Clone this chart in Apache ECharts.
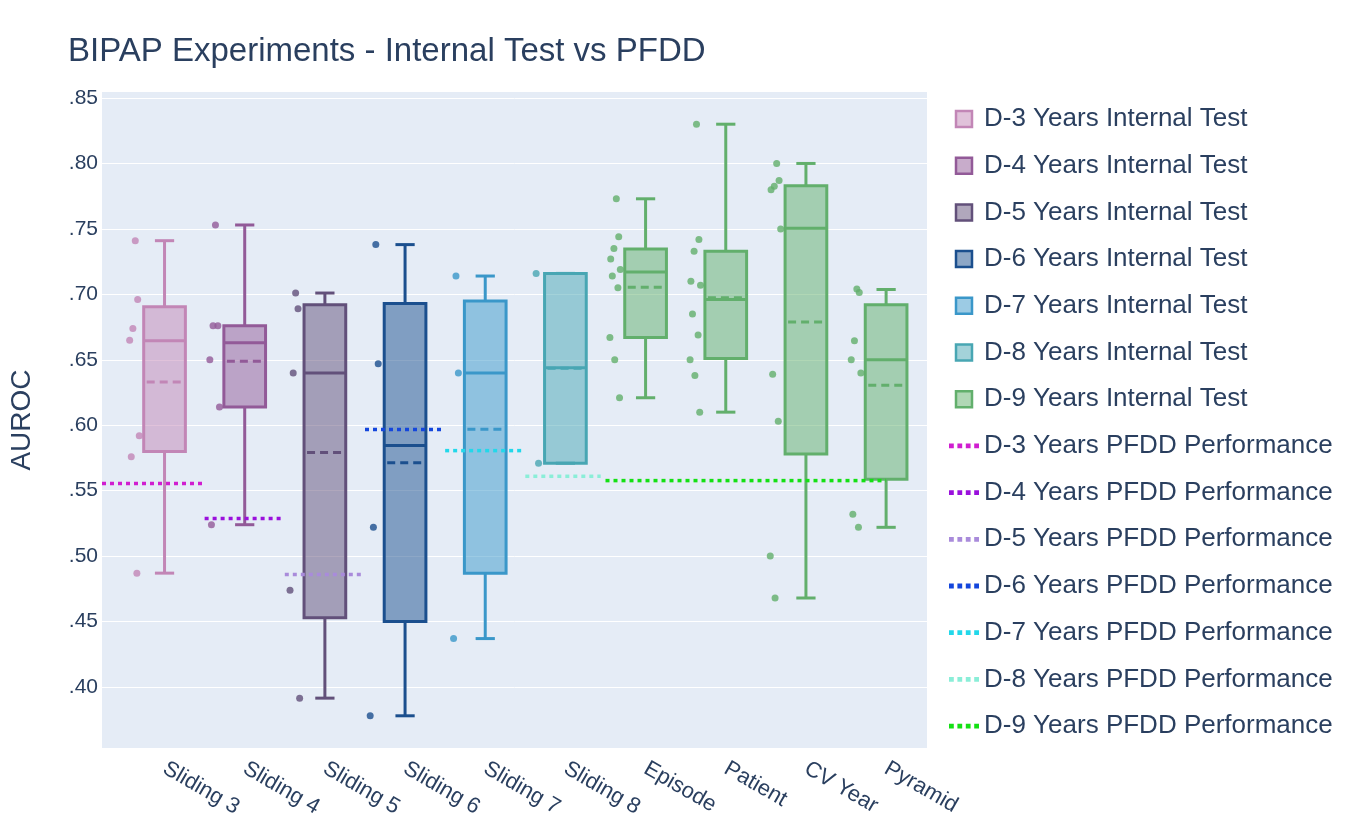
<!DOCTYPE html>
<html>
<head>
<meta charset="utf-8">
<title>BIPAP Experiments - Internal Test vs PFDD</title>
<script src="https://cdn.jsdelivr.net/npm/echarts@6/dist/echarts.min.js"></script>
<style>
  html, body { margin: 0; padding: 0; background: #fff; }
  #chart { width: 1350px; height: 832px; }
</style>
</head>
<body>
<div id="chart"></div>
<script>
// categories along the x axis
var categories = ['Sliding 3', 'Sliding 4', 'Sliding 5', 'Sliding 6', 'Sliding 7',
                  'Sliding 8', 'Episode', 'Patient', 'CV Year', 'Pyramid'];

// which internal-test trace each category belongs to (index into groupNames)
var categoryGroup = [0, 1, 2, 3, 4, 5, 6, 6, 6, 6];

var groupNames = ['D-3 Years Internal Test', 'D-4 Years Internal Test', 'D-5 Years Internal Test',
                  'D-6 Years Internal Test', 'D-7 Years Internal Test', 'D-8 Years Internal Test',
                  'D-9 Years Internal Test'];

var pfddNames = ['D-3 Years PFDD Performance', 'D-4 Years PFDD Performance', 'D-5 Years PFDD Performance',
                 'D-6 Years PFDD Performance', 'D-7 Years PFDD Performance', 'D-8 Years PFDD Performance',
                 'D-9 Years PFDD Performance'];

// AUROC of every run, one list per category
var sliding3Points = [0.741, 0.696, 0.674, 0.665, 0.592, 0.576, 0.487];
var sliding4Points = [0.753, 0.676, 0.676, 0.650, 0.614, 0.524];
var sliding5Points = [0.701, 0.689, 0.640, 0.474, 0.3915];
var sliding6Points = [0.738, 0.647, 0.522, 0.378];
var sliding7Points = [0.714, 0.640, 0.437];
var sliding8Points = [0.716, 0.571];
var episodePoints  = [0.773, 0.744, 0.735, 0.727, 0.719, 0.714, 0.705, 0.667, 0.650, 0.621];
var patientPoints  = [0.830, 0.742, 0.733, 0.710, 0.707, 0.685, 0.669, 0.650, 0.638, 0.610];
var cvYearPoints   = [0.800, 0.787, 0.7825, 0.780, 0.750, 0.639, 0.603, 0.500, 0.468];
var pyramidPoints  = [0.704, 0.7015, 0.6645, 0.650, 0.640, 0.532, 0.522];

var pointLists = [sliding3Points, sliding4Points, sliding5Points, sliding6Points, sliding7Points,
                  sliding8Points, episodePoints, patientPoints, cvYearPoints, pyramidPoints];

// box summaries as drawn: [lower fence, q1, median, q3, upper fence]
var sliding3Box = [0.487, 0.580, 0.6645, 0.6905, 0.741];
var sliding4Box = [0.524, 0.614, 0.663, 0.676, 0.753];
var sliding5Box = [0.3915, 0.453, 0.640, 0.692, 0.701];
var sliding6Box = [0.378, 0.450, 0.5845, 0.693, 0.738];
var sliding7Box = [0.437, 0.487, 0.640, 0.695, 0.714];
var sliding8Box = [0.571, 0.571, 0.644, 0.716, 0.716];
var episodeBox  = [0.621, 0.667, 0.717, 0.7346, 0.773];
var patientBox  = [0.610, 0.651, 0.696, 0.733, 0.830];
var cvYearBox   = [0.468, 0.578, 0.7505, 0.783, 0.800];
var pyramidBox  = [0.522, 0.5587, 0.650, 0.692, 0.7037];

var boxLists = [sliding3Box, sliding4Box, sliding5Box, sliding6Box, sliding7Box,
                sliding8Box, episodeBox, patientBox, cvYearBox, pyramidBox];

// PFDD reference level and the x span (category units) of each dotted line
var pfddValues = [0.5555, 0.5288, 0.486, 0.5967, 0.5806, 0.561, 0.5577];
var pfddFrom   = [-0.78, 0.50, 1.50, 2.50, 3.50, 4.50, 5.50];
var pfddTo     = [0.50, 1.47, 2.47, 3.46, 4.46, 5.44, 9.00];

var yTicks = [0.40, 0.45, 0.50, 0.55, 0.60, 0.65, 0.70, 0.75, 0.80, 0.85];

var boxColors  = ['#c286b6', '#925a98', '#62507a', '#1b4f8e', '#3a97c9', '#48a6b3', '#62af6c'];
var pfddColors = ['#d01ed0', '#9a10dc', '#a98bdb', '#1446dc', '#22d8ea', '#8aeed8', '#14e014'];

var FONT = '"Liberation Sans", Arial, sans-serif';
var TEXT = '#2a3f5f';
var BOX_HALF = 0.26;
var CAP_HALF = 0.12;
var POINT_POS = -0.385;
var jitter = [0.02, 0.05, -0.01, -0.05, 0.07, -0.03, 0.04, -0.06, 0.0, 0.06];

var SQUARE_ICON = 'path://M0,0H10V10H0Z';
var DOTS_ICON = 'path://M0,0h4v4h-4z M7,0h4v4h-4z M14,0h4v4h-4z M21,0h4v4h-4z';

function fade(hex, a) {
  var n = parseInt(hex.slice(1), 16);
  return 'rgba(' + (n >> 16) + ',' + ((n >> 8) & 255) + ',' + (n & 255) + ',' + a + ')';
}

function mean(list) {
  var s = 0;
  list.forEach(function(v) { s += v; });
  return s / list.length;
}

function makeRenderBox(stroke, fill) {
  return function(params, api) {
    var x = api.value(0);
    var unit = api.size([1, 0])[0];
    var half = unit * BOX_HALF, cap = unit * CAP_HALF;
    var lo = api.coord([x, api.value(1)]);
    var q1 = api.coord([x, api.value(2)]);
    var md = api.coord([x, api.value(3)]);
    var q3 = api.coord([x, api.value(4)]);
    var hi = api.coord([x, api.value(5)]);
    var mn = api.coord([x, api.value(6)]);
    var cx = md[0];
    var ls = { stroke: stroke, lineWidth: 3 };
    var line = function(x1, y1, x2, y2, style) {
      return { type: 'line', shape: { x1: x1, y1: y1, x2: x2, y2: y2 }, style: style || ls };
    };
    return {
      type: 'group',
      children: [
        line(cx, q3[1], cx, hi[1]),
        line(cx, q1[1], cx, lo[1]),
        line(cx - cap, hi[1], cx + cap, hi[1]),
        line(cx - cap, lo[1], cx + cap, lo[1]),
        { type: 'rect', shape: { x: cx - half, y: q3[1], width: half * 2, height: q1[1] - q3[1] },
          style: { fill: fill, stroke: stroke, lineWidth: 3 } },
        line(cx - half, md[1], cx + half, md[1]),
        line(cx - half + 3, mn[1], cx + half - 3, mn[1],
             { stroke: stroke, lineWidth: 3, lineDash: [8, 5] })
      ]
    };
  };
}

var series = [];
var legendData = [];

groupNames.forEach(function(name, g) {
  var boxData = [], pointData = [];
  categories.forEach(function(cat, i) {
    if (categoryGroup[i] !== g) return;
    var b = boxLists[i];
    boxData.push([i, b[0], b[1], b[2], b[3], b[4], mean(pointLists[i])]);
    pointLists[i].forEach(function(v, k) {
      pointData.push([i + POINT_POS + jitter[k % jitter.length], v]);
    });
  });
  var fill = fade(boxColors[g], 0.5);
  series.push({
    name: name,
    type: 'custom',
    renderItem: makeRenderBox(boxColors[g], fill),
    encode: { x: 0, y: [1, 2, 3, 4, 5] },
    itemStyle: { color: boxColors[g] },
    data: boxData,
    z: 2
  });
  series.push({
    name: name,
    type: 'scatter',
    symbolSize: 7,
    itemStyle: { color: boxColors[g] },
    data: pointData,
    z: 3
  });
  legendData.push({
    name: name,
    icon: SQUARE_ICON,
    itemStyle: { color: fill, borderColor: boxColors[g], borderWidth: 2.5 }
  });
});

pfddNames.forEach(function(name, g) {
  series.push({
    name: name,
    type: 'line',
    symbol: 'none',
    lineStyle: { color: pfddColors[g], width: 3.5, type: [4, 4] },
    itemStyle: { color: pfddColors[g] },
    data: [[pfddFrom[g], pfddValues[g]], [pfddTo[g], pfddValues[g]]],
    z: 4
  });
  legendData.push({
    name: name,
    icon: DOTS_ICON,
    itemStyle: { color: pfddColors[g], borderWidth: 0 }
  });
});

var chart = echarts.init(document.getElementById('chart'));
chart.setOption({
  animation: false,
  backgroundColor: '#ffffff',
  textStyle: { fontFamily: FONT },
  title: {
    text: 'BIPAP Experiments - Internal Test vs PFDD',
    left: 63, top: 30,
    textStyle: { fontFamily: FONT, fontSize: 33, fontWeight: 'normal', color: TEXT }
  },
  legend: {
    orient: 'vertical',
    left: 949, top: 105,
    padding: 0,
    itemWidth: 30, itemHeight: 16,
    itemGap: 18.7,
    textStyle: { fontFamily: FONT, fontSize: 26, color: TEXT, lineHeight: 28 },
    data: legendData
  },
  grid: {
    left: 100, right: 423, top: 92, bottom: 84,
    show: true, backgroundColor: '#E5ECF6', borderWidth: 0
  },
  xAxis: {
    type: 'value',
    min: -0.78, max: 9.51,
    axisLine: { show: false },
    axisTick: { show: false, customValues: [0, 1, 2, 3, 4, 5, 6, 7, 8, 9] },
    splitLine: { show: false },
    axisLabel: {
      customValues: [0, 1, 2, 3, 4, 5, 6, 7, 8, 9],
      rotate: -30, margin: 19,
      fontFamily: FONT, fontSize: 22, color: TEXT,
      formatter: function(v) { return categories[Math.round(v)]; }
    }
  },
  yAxis: {
    type: 'value',
    min: 0.3534, max: 0.8546,
    name: 'AUROC',
    nameLocation: 'middle',
    nameGap: 66,
    nameTextStyle: { fontFamily: FONT, fontSize: 28, color: TEXT },
    axisLine: { show: false },
    axisTick: { show: false, customValues: yTicks },
    splitLine: { show: true, lineStyle: { color: '#ffffff', width: 1 } },
    axisLabel: {
      customValues: yTicks,
      margin: 4,
      fontFamily: FONT, fontSize: 21, color: TEXT,
      formatter: function(v) { return v.toFixed(2).replace(/^0/, ''); }
    }
  },
  series: series
});
</script>
</body>
</html>
